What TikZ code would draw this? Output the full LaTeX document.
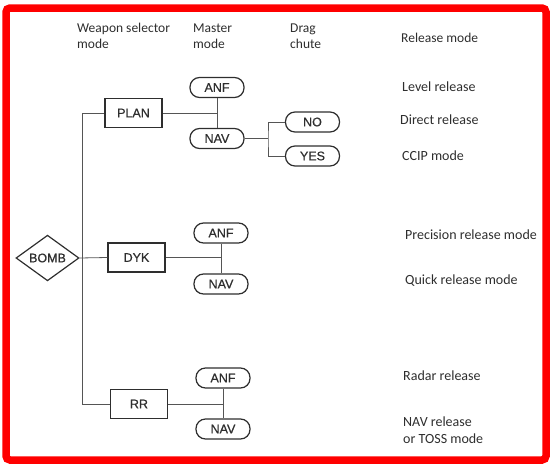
\documentclass[tikz,border=0pt]{standalone}
\usepackage{fontspec}
\setmainfont{Carlito}
\newfontfamily\boxfont[FakeBold=0.6]{Liberation Sans}
\usetikzlibrary{shapes.geometric}
\definecolor{ink}{HTML}{2E2E2E}
\definecolor{wire}{HTML}{555555}
\begin{document}
\begin{tikzpicture}[x=1pt,y=-1pt,
  hdr/.style={anchor=west,align=left,text=ink,font=\fontsize{13.5}{16}\selectfont,inner sep=0pt},
  rel/.style={anchor=west,align=left,text=ink,font=\fontsize{14}{17}\selectfont,inner sep=0pt},
  selbox/.style={draw=ink,line width=1.3pt,minimum width=57pt,minimum height=29pt,inner sep=0pt,text=ink,font=\boxfont\fontsize{12.5}{13}\selectfont},
  pill/.style={draw=ink,line width=1.2pt,rounded corners=9.5pt,minimum width=54pt,minimum height=20pt,inner sep=0pt,text=ink,font=\boxfont\fontsize{12.5}{13}\selectfont},
  diam/.style={draw=ink,line width=1.2pt,diamond,minimum width=63pt,minimum height=33pt,inner sep=0pt,text=ink,font=\boxfont\fontsize{12.5}{13}\selectfont},
  wire/.style={draw=wire,line width=0.8pt}]
\useasboundingbox (0,0) rectangle (554,466);
\draw[red,line width=7.5pt,rounded corners=4pt] (6,8) rectangle (546,460);

% headers
\node[hdr] (h1) at (77,36) {Weapon selector\\mode};
\node[hdr] (h2) at (193,36) {Master\\mode};
\node[hdr] (h3) at (290,36) {Drag\\chute};
\node[hdr] (h4) at (401,38) {Release mode};

% nodes
\node[diam] (bomb) at (47.5,258) {BOMB};
\node[selbox] (plan) at (133.5,113) {PLAN};
\node[selbox] (dyk) at (136.5,257.5) {DYK};
\node[selbox] (rr) at (139,404) {RR};
\node[pill] (anf1) at (217,87.5) {ANF};
\node[pill] (nav1) at (217,138.5) {NAV};
\node[pill] (no) at (312.5,122) {NO};
\node[pill] (yes) at (312.5,156) {YES};
\node[pill] (anf2) at (221,233) {ANF};
\node[pill] (nav2) at (221,284) {NAV};
\node[pill] (anf3) at (223,378) {ANF};
\node[pill] (nav3) at (223,429) {NAV};

\coordinate (tt) at (82,113);
\coordinate (tb) at (82,404);
\coordinate (jn) at (268,138.5);

% connectors
\draw[wire] (tt) -- (tb);
\draw[wire] (tt) -- (plan.west);
\draw[wire] (tb) -- (rr.west);
\draw[wire] (bomb.east) -- (dyk.west);
\draw[wire] (anf1.south) -- (nav1.north);
\draw[wire] (plan.east) -- (plan.east -| anf1.south);
\draw[wire] (anf2.south) -- (nav2.north);
\draw[wire] (dyk.east) -- (dyk.east -| anf2.south);
\draw[wire] (anf3.south) -- (nav3.north);
\draw[wire] (rr.east) -- (rr.east -| anf3.south);
\draw[wire] (nav1.east) -- (jn);
\draw[wire] (no.west) -| (jn) |- (yes.west);

% release modes
\node[rel] (r1) at (402,87) {Level release};
\node[rel] (r2) at (400,120) {Direct release};
\node[rel] (r3) at (402,155.5) {CCIP mode};
\node[rel] (r4) at (405,235) {Precision release mode};
\node[rel] (r5) at (405,281) {Quick release mode};
\node[rel] (r6) at (403,376) {Radar release};
\node[rel] (r7) at (403,430) {NAV release\\or TOSS mode};
\end{tikzpicture}
\end{document}
